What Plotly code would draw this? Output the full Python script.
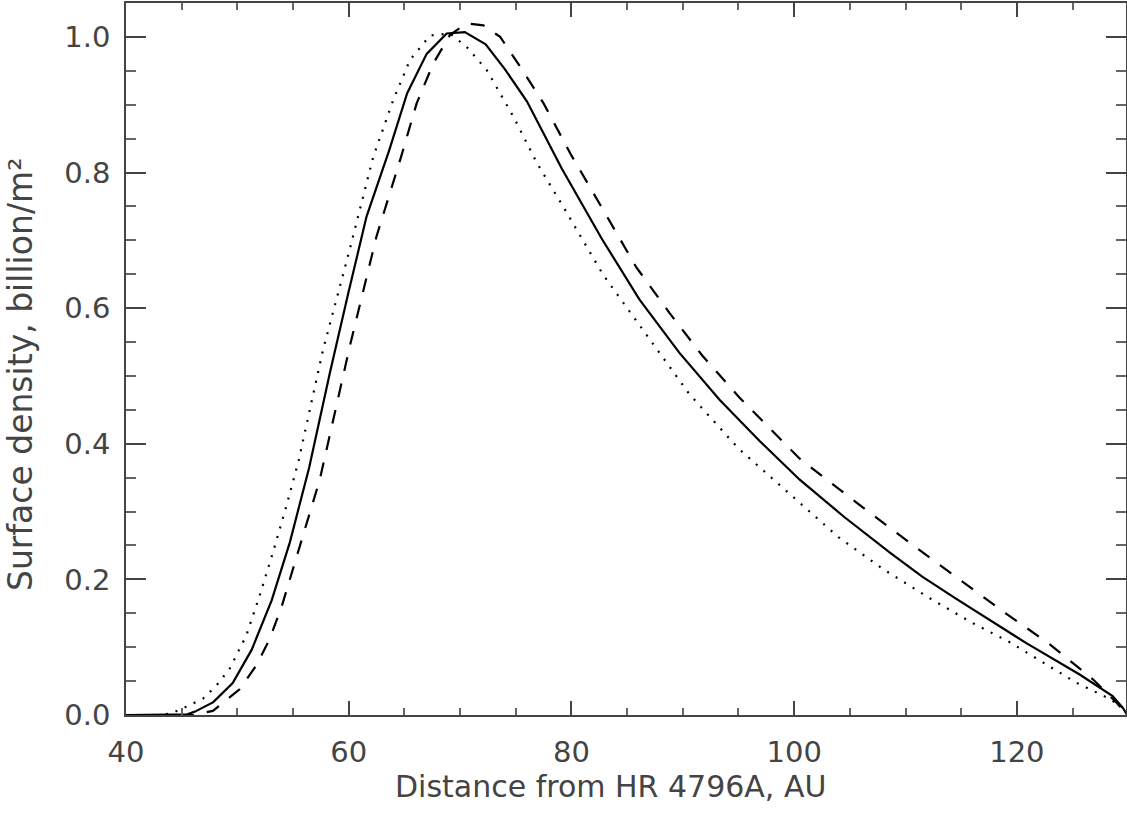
import plotly.graph_objects as go

# Solid curve
solid_x = [40, 42, 44, 45.5, 46.2, 47.84, 49.58, 51.28, 53.08, 54.72, 56.45, 58.3, 59.96, 61.6,
           63.64, 65.25, 67.0, 68.8, 70.43, 72.3, 74.0, 76.0, 79.13, 82.7, 86.1, 89.7, 93.3,
           96.9, 100.5, 104.5, 108.6, 111.5, 114.6, 118.5, 120.85, 125.6, 128.6, 129.5, 129.9]
solid_y = [0, 0, 0, 0.001, 0.005, 0.019, 0.047, 0.096, 0.169, 0.255, 0.365, 0.504, 0.622, 0.735,
           0.833, 0.917, 0.975, 1.005, 1.007, 0.989, 0.953, 0.905, 0.806, 0.703, 0.613, 0.534, 0.465,
           0.404, 0.347, 0.292, 0.2395, 0.204, 0.171, 0.131, 0.106, 0.060, 0.028, 0.011, 0.0]

# Dotted curve
dot_x = [40, 43, 44, 45, 46.9, 48.1, 49.3, 50.8, 52.0, 53.2, 54.4, 55.5, 57.7, 60.0, 62.2, 64.0,
         65.5, 67.3, 69.1, 70.6, 72.4, 74.8, 76.9, 79.25, 82.85, 86.4, 90.6, 95.0, 100.8, 104.0,
         108.0, 112.3, 116.1, 119.4, 122.0, 125.3, 128.3, 129.5, 129.9]
dot_y = [0, 0, 0.002, 0.009, 0.024, 0.043, 0.068, 0.117, 0.176, 0.24, 0.308, 0.375, 0.539, 0.681,
         0.823, 0.907, 0.966, 1.002, 1.005, 0.985, 0.951, 0.882, 0.814, 0.75, 0.649, 0.568, 0.473,
         0.393, 0.308, 0.262, 0.215, 0.171, 0.135, 0.107, 0.081, 0.048, 0.024, 0.011, 0.0]

# Dashed curve
dash_x = [40, 46, 47.8, 50.2, 51.7, 52.9, 54.0, 55.0, 56.2, 57.4, 60.1, 62.5, 64.7, 66.1, 67.6,
          69.1, 70.6, 72.1, 73.6, 75.4, 77.5, 79.9, 83.2, 85.8, 88.8, 91.8, 95.1, 100.5, 106.5,
          112.5, 119.0, 122.9, 126.8, 128.9, 129.9]
dash_y = [0, 0, 0.006, 0.038, 0.073, 0.112, 0.161, 0.215, 0.279, 0.347, 0.544, 0.706, 0.823, 0.902,
          0.961, 1.003, 1.02, 1.017, 1.0, 0.956, 0.902, 0.828, 0.735, 0.661, 0.593, 0.529, 0.468,
          0.378, 0.302, 0.228, 0.150, 0.105, 0.053, 0.019, 0.0]

x_title = "Distance from HR 4796A, AU"
y_title = "Surface density, billion/m²"

fig = go.Figure()
fig.add_trace(go.Scatter(x=dot_x, y=dot_y, mode="lines",
                         line=dict(color="black", width=2.2, dash="2px,8px"), showlegend=False))
fig.add_trace(go.Scatter(x=dash_x, y=dash_y, mode="lines",
                         line=dict(color="black", width=2.2, dash="14px,13px"), showlegend=False))
fig.add_trace(go.Scatter(x=solid_x, y=solid_y, mode="lines",
                         line=dict(color="black", width=2.2), showlegend=False))

font = dict(family="DejaVu Sans", size=29, color="#444")

fig.update_layout(
    width=1127, height=813,
    margin=dict(l=126, r=1, t=3, b=98),
    paper_bgcolor="white", plot_bgcolor="white",
    font=font,
    xaxis=dict(range=[40, 129.8], dtick=20, tick0=40, ticks="inside", ticklen=14,
               tickwidth=1.5, tickcolor="#444", showgrid=False, zeroline=False,
               showline=True, linecolor="#444", linewidth=1.5, mirror="allticks",
               automargin=False,
               minor=dict(dtick=5, ticks="inside", ticklen=7, tickwidth=1.5, tickcolor="#666"),
               ticklabelstandoff=10),
    yaxis=dict(range=[0, 1.05], dtick=0.2, tick0=0, ticks="inside", ticklen=20,
               tickwidth=1.5, tickcolor="#444", showgrid=False, zeroline=False,
               showline=True, linecolor="#444", linewidth=1.5, mirror="allticks",
               tickformat=".1f", automargin=False,
               minor=dict(dtick=0.05, ticks="inside", ticklen=10, tickwidth=1.5, tickcolor="#666"),
               ticklabelstandoff=8),
    annotations=[
        dict(text=x_title, xref="paper", yref="paper", x=0.484, y=-0.1,
             xanchor="center", yanchor="middle", showarrow=False, font=dict(size=30)),
        dict(text=y_title, xref="paper", yref="paper", x=-0.106, y=0.4775, textangle=-90,
             xanchor="center", yanchor="middle", showarrow=False, font=dict(size=33)),
    ],
)

fig.write_html("out.html", config={"displayModeBar": False},
               post_script="document.body.style.margin='0';document.body.style.overflow='hidden';")
